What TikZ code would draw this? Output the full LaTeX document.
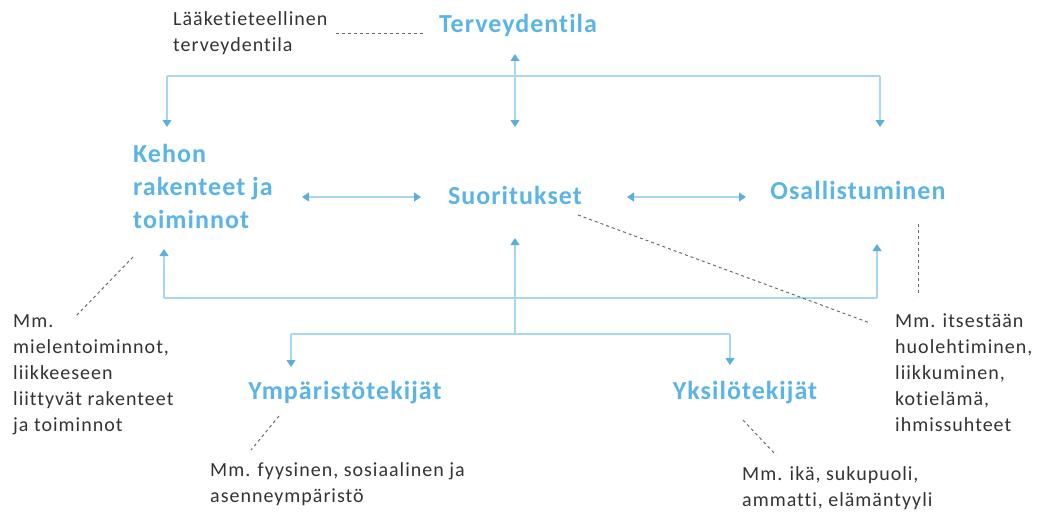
\documentclass[tikz,border=0pt]{standalone}
\usepackage{fontspec}
\setmainfont{Carlito}
\newfontfamily\bluefont[LetterSpace=4,Ligatures=NoCommon]{Carlito}
\newfontfamily\grayfont[LetterSpace=5,Ligatures=NoCommon]{Carlito}
\usetikzlibrary{arrows.meta}
\definecolor{tblue}{HTML}{5AB4E6}
\definecolor{lblue}{HTML}{A9D7F1}
\definecolor{ablue}{HTML}{5AAFE0}
\definecolor{tgray}{HTML}{333333}
\definecolor{dgray}{HTML}{6A6A6A}
\tikzset{
  main/.style={text=tblue, font=\bluefont\bfseries\fontsize{26}{33}\selectfont, inner sep=0pt},
  note/.style={text=tgray, font=\grayfont\fontsize{20}{26}\selectfont, inner sep=0pt, align=left},
  conn/.style={draw=lblue, line width=1.2pt},
  thick conn/.style={draw=lblue, line width=2.4pt},
  tip/.style={-{Triangle[width=9pt,length=7pt,color=ablue]}},
  tips/.style={{Triangle[width=9pt,length=7pt,color=ablue]}-{Triangle[width=9pt,length=7pt,color=ablue]}},
  lead/.style={draw=dgray, line width=1pt, dash pattern=on 3pt off 3pt},
}
\begin{document}
\begin{tikzpicture}[x=1pt,y=-1pt]
\useasboundingbox (0,0) rectangle (1043,511);
% main nodes
\node[main] (T) at (518,25) {Terveydentila};
\node[main, anchor=west, align=left] (K) at (133,186) {Kehon\\rakenteet ja\\toiminnot};
\node[main] (S) at (515,195) {Suoritukset};
\node[main] (O) at (858,190) {Osallistuminen};
\node[main] (Y) at (345,393) {Ympäristötekijät};
\node[main] (I) at (745,393) {Yksilötekijät};
% notes
\node[note, anchor=north west] (nT) at (173,11) {Lääketieteellinen\\terveydentila};
\node[note, anchor=north west] (nK) at (13,314) {Mm.\\mielentoiminnot,\\liikkeeseen\\liittyvät rakenteet\\ja toiminnot};
\node[note, anchor=north west] (nO) at (895,314) {Mm. itsestään\\huolehtiminen,\\liikkuminen,\\kotielämä,\\ihmissuhteet};
\node[note, anchor=north west] (nY) at (210,462) {Mm. fyysinen, sosiaalinen ja\\asenneympäristö};
\node[note, anchor=north west] (nI) at (742,466) {Mm. ikä, sukupuoli,\\ammatti, elämäntyyli};
% top tree
\coordinate (tj) at (515,76);
\coordinate (tl) at (167,76);
\coordinate (tr) at (880,76);
\coordinate (tTend) at (515,54);
\coordinate (tSend) at (515,127);
\coordinate (tKend) at (167,127);
\coordinate (tOend) at (880,127);
\draw[conn] (tl) -- (tr);
\draw[conn,tip] (tj) -- (tTend);
\draw[conn,tip] (tj) -- (tSend);
\draw[conn,tip] (tl) -- (tKend);
\draw[conn,tip] (tr) -- (tOend);
% horizontal arrows
\coordinate (ks1) at (302,197);
\coordinate (ks2) at (421,197);
\coordinate (so1) at (627,197);
\coordinate (so2) at (746,197);
\draw[conn,tips] (ks1) -- (ks2);
\draw[conn,tips] (so1) -- (so2);
% bottom tree
\coordinate (bl) at (164,298);
\coordinate (br) at (877,298);
\coordinate (bKend) at (164,249);
\coordinate (bOend) at (877,244);
\draw[thick conn] (bl) -- (br);
\draw[conn,tip] (bl) -- (bKend);
\draw[conn,tip] (br) -- (bOend);
\coordinate (mj) at (515,334);
\coordinate (mSend) at (515,238);
\coordinate (ml) at (291,334);
\coordinate (mr) at (730,334);
\coordinate (mYend) at (291,367);
\coordinate (mIend) at (730,365);
\draw[conn,tip] (mj) -- (mSend);
\draw[conn] (ml) -- (mr);
\draw[conn,tip] (ml) -- (mYend);
\draw[conn,tip] (mr) -- (mIend);
% leader lines
\coordinate (lT1) at (336,34);
\coordinate (lT2) at (425,34);
\draw[lead] (lT1) -- (lT2);
\coordinate (lK1) at (133,257);
\coordinate (lK2) at (76,316);
\draw[lead] (lK1) -- (lK2);
\coordinate (lS1) at (578,215);
\coordinate (lS2) at (870,323);
\draw[lead] (lS1) -- (lS2);
\coordinate (lO1) at (918,224);
\coordinate (lO2) at (918,296);
\draw[lead] (lO1) -- (lO2);
\coordinate (lY1) at (279,416);
\coordinate (lY2) at (251,450);
\draw[lead] (lY1) -- (lY2);
\coordinate (lI1) at (743,420);
\coordinate (lI2) at (776,455);
\draw[lead] (lI1) -- (lI2);
\end{tikzpicture}
\end{document}
